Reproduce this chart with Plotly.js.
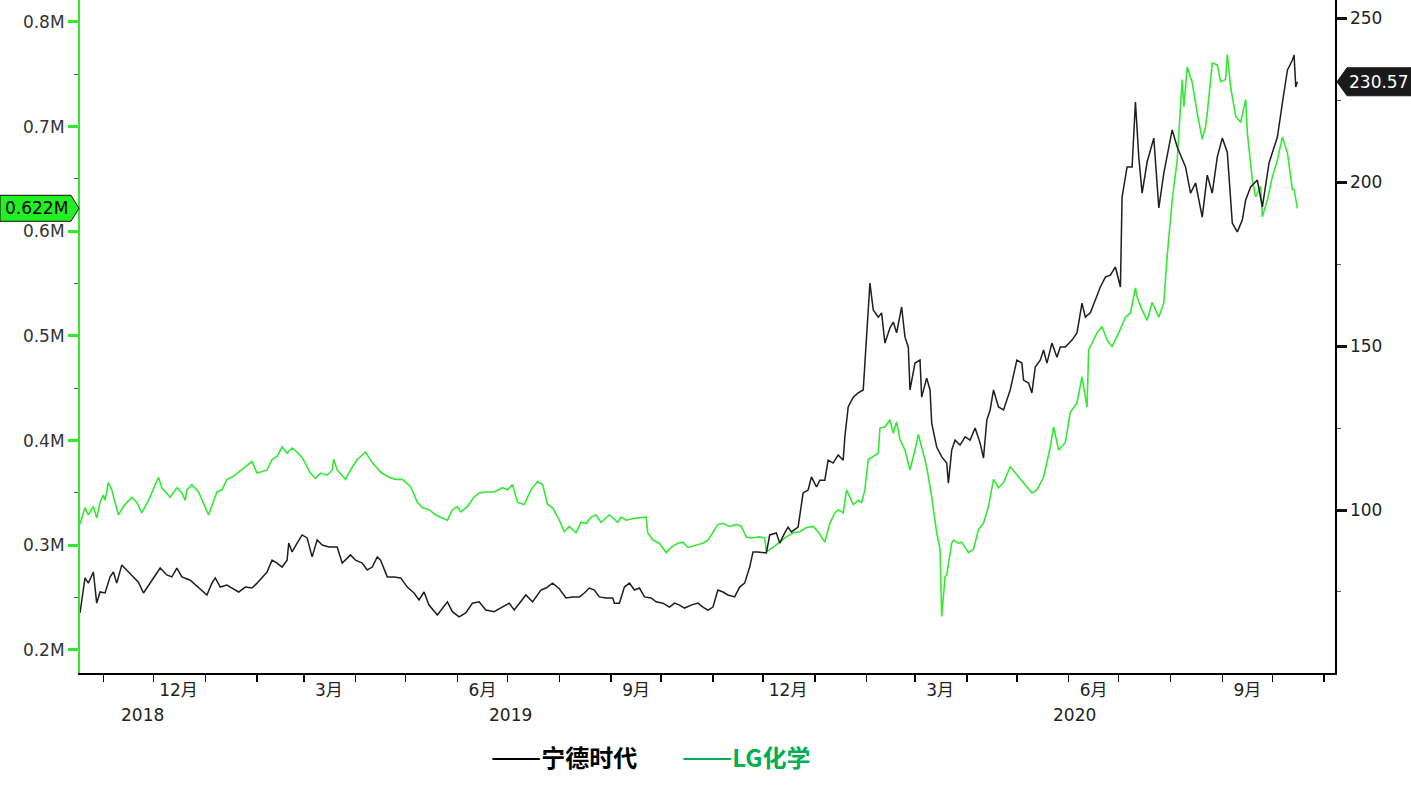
<!DOCTYPE html>
<html>
<head>
<meta charset="utf-8">
<script src="https://cdn.plot.ly/plotly-3.0.1.min.js"></script>
<style>
html,body{margin:0;padding:0;background:#fff;}
#chart{width:1411px;height:787px;}
</style>
</head>
<body>
<div id="chart"></div>
<script>
// ---------------- DATA ----------------
// 宁德时代 (CATL) – right axis, CNY
const catlDates = [
"2018-10-18","2018-10-21","2018-10-23","2018-10-26","2018-10-28","2018-10-30","2018-11-02","2018-11-05","2018-11-07","2018-11-09",
"2018-11-12","2018-11-15","2018-11-19","2018-11-22","2018-11-25","2018-11-30","2018-12-05","2018-12-09","2018-12-12","2018-12-15",
"2018-12-18","2018-12-23","2018-12-28","2019-01-02","2019-01-05","2019-01-07","2019-01-10","2019-01-14","2019-01-17","2019-01-21",
"2019-01-25","2019-01-29","2019-02-01","2019-02-07","2019-02-10","2019-02-13","2019-02-16","2019-02-19","2019-02-20","2019-02-22",
"2019-02-25","2019-02-28","2019-03-03","2019-03-06","2019-03-09","2019-03-12","2019-03-16","2019-03-21","2019-03-24","2019-03-29",
"2019-04-01","2019-04-05","2019-04-08","2019-04-11","2019-04-14","2019-04-16","2019-04-20","2019-04-24","2019-04-28","2019-05-02",
"2019-05-06","2019-05-09","2019-05-12","2019-05-15","2019-05-20","2019-05-26","2019-05-29","2019-06-02","2019-06-06","2019-06-10",
"2019-06-14","2019-06-18","2019-06-23","2019-06-28","2019-07-02","2019-07-05","2019-07-08","2019-07-12","2019-07-16","2019-07-21",
"2019-07-24","2019-07-28","2019-08-01","2019-08-05","2019-08-09","2019-08-13","2019-08-16","2019-08-19","2019-08-22","2019-08-25",
"2019-08-29","2019-09-02","2019-09-03","2019-09-06","2019-09-09","2019-09-12","2019-09-15","2019-09-18","2019-09-21","2019-09-25",
"2019-09-28","2019-10-02","2019-10-06","2019-10-09","2019-10-12","2019-10-15","2019-10-19","2019-10-23","2019-10-26","2019-10-29",
"2019-11-01","2019-11-04","2019-11-07","2019-11-10","2019-11-14","2019-11-17","2019-11-20","2019-11-23","2019-11-25","2019-11-28",
"2019-12-03","2019-12-05","2019-12-09","2019-12-11","2019-12-14","2019-12-16","2019-12-18","2019-12-22","2019-12-25","2019-12-28",
"2019-12-30","2020-01-02","2020-01-04","2020-01-07","2020-01-09","2020-01-12","2020-01-15","2020-01-18","2020-01-19","2020-01-21",
"2020-01-24","2020-01-27","2020-01-30","2020-02-01","2020-02-03","2020-02-05","2020-02-08","2020-02-10","2020-02-12","2020-02-15",
"2020-02-17","2020-02-19","2020-02-22","2020-02-24","2020-02-26","2020-02-27","2020-03-01","2020-03-04","2020-03-05","2020-03-08",
"2020-03-10","2020-03-11","2020-03-14","2020-03-17","2020-03-20","2020-03-21","2020-03-23","2020-03-25","2020-03-28","2020-03-31",
"2020-04-03","2020-04-06","2020-04-09","2020-04-11","2020-04-13","2020-04-15","2020-04-17","2020-04-20","2020-04-23","2020-04-27",
"2020-05-01","2020-05-04","2020-05-05","2020-05-08","2020-05-10","2020-05-12","2020-05-15","2020-05-17","2020-05-19","2020-05-22",
"2020-05-25","2020-05-27","2020-05-30","2020-06-03","2020-06-06","2020-06-09","2020-06-11","2020-06-14","2020-06-17","2020-06-20",
"2020-06-23","2020-06-26","2020-06-29","2020-07-02","2020-07-03","2020-07-06","2020-07-09","2020-07-11","2020-07-13","2020-07-15",
"2020-07-18","2020-07-22","2020-07-25","2020-07-28","2020-08-02","2020-08-05","2020-08-10","2020-08-13","2020-08-16","2020-08-20",
"2020-08-23","2020-08-26","2020-08-29","2020-09-01","2020-09-04","2020-09-07","2020-09-10","2020-09-13","2020-09-15","2020-09-18",
"2020-09-22","2020-09-25","2020-09-29","2020-10-04","2020-10-07","2020-10-10","2020-10-13","2020-10-14","2020-10-15","2020-10-16"
];
const catlValues = [
68.6,79.3,77.7,81.1,71.6,75.0,74.7,79.6,81.1,77.7,
83.2,81.7,79.6,78.0,74.7,78.6,82.3,80.2,79.6,82.3,
79.6,78.6,76.2,74.1,77.7,79.3,76.5,77.1,76.2,75.0,
76.5,76.2,77.7,81.1,84.7,83.8,82.6,84.7,89.9,87.2,
89.9,92.4,91.5,85.7,90.9,89.3,88.7,88.7,83.8,86.3,
84.7,83.8,81.7,82.6,85.7,84.7,79.6,79.6,79.3,76.5,
74.7,72.6,75.0,71.0,68.0,72.0,69.0,67.4,68.6,71.6,
72.0,69.5,69.0,70.4,71.6,69.5,71.6,74.1,72.0,75.6,
76.2,77.7,76.0,73.2,73.5,73.5,74.7,76.2,75.6,73.5,
73.2,73.2,71.6,71.6,76.5,77.7,75.6,76.2,73.5,73.2,
72.0,71.6,70.4,71.6,71.0,70.1,71.0,71.6,70.4,69.5,
70.4,75.6,75.0,74.1,73.5,76.5,77.7,82.6,87.2,87.2,
86.9,92.4,93.0,89.9,93.0,94.8,93.3,94.8,105.2,106.1,
110.1,107.0,109.1,109.1,115.2,114.3,116.8,115.2,122.3,131.4,
134.4,135.7,136.6,154.0,169.2,161.0,158.8,160.1,150.9,155.5,
157.3,154.0,161.9,152.7,149.7,136.6,144.8,145.7,134.4,140.2,
136.6,126.5,119.2,116.2,114.3,108.2,118.3,121.3,119.8,122.3,
121.3,125.0,120.4,115.8,127.4,130.5,136.6,131.4,130.5,136.6,
145.7,144.8,139.6,138.7,135.7,143.6,145.7,148.8,144.8,150.9,
146.6,149.7,149.7,151.8,154.0,163.1,158.8,160.1,164.0,168.0,
171.0,171.6,174.1,168.0,195.4,204.6,204.6,224.4,207.6,196.6,
206.1,213.4,192.1,202.7,215.9,210.7,204.6,196.6,199.7,189.3,
202.1,196.6,207.6,213.4,209.1,187.5,184.8,188.4,194.5,198.5,
200.6,192.4,205.8,213.7,224.1,234.1,237.2,238.7,229.0,230.57
];

// LG化学 (LG Chem) – left axis, million KRW
const lgDates = [
"2018-10-18","2018-10-21","2018-10-23","2018-10-26","2018-10-28","2018-10-30","2018-11-01","2018-11-02","2018-11-04","2018-11-06",
"2018-11-10","2018-11-13","2018-11-18","2018-11-21","2018-11-24","2018-11-28","2018-12-04","2018-12-06","2018-12-11","2018-12-15",
"2018-12-18","2018-12-20","2018-12-21","2018-12-24","2018-12-28","2019-01-03","2019-01-08","2019-01-11","2019-01-14","2019-01-17",
"2019-01-21","2019-01-25","2019-01-29","2019-02-01","2019-02-07","2019-02-10","2019-02-13","2019-02-16","2019-02-19","2019-02-22",
"2019-02-25","2019-02-28","2019-03-05","2019-03-08","2019-03-11","2019-03-15","2019-03-18","2019-03-19","2019-03-21","2019-03-26",
"2019-03-29","2019-04-02","2019-04-07","2019-04-11","2019-04-16","2019-04-21","2019-04-25","2019-04-29","2019-05-04","2019-05-08",
"2019-05-11","2019-05-15","2019-05-19","2019-05-23","2019-05-26","2019-05-29","2019-06-01","2019-06-03","2019-06-07","2019-06-11",
"2019-06-14","2019-06-18","2019-06-23","2019-06-28","2019-07-01","2019-07-04","2019-07-07","2019-07-11","2019-07-15","2019-07-19",
"2019-07-22","2019-07-25","2019-07-28","2019-08-01","2019-08-04","2019-08-07","2019-08-11","2019-08-14","2019-08-17","2019-08-20",
"2019-08-23","2019-08-26","2019-08-31","2019-09-05","2019-09-07","2019-09-10","2019-09-16","2019-09-22","2019-09-23","2019-09-26",
"2019-09-30","2019-10-04","2019-10-07","2019-10-11","2019-10-14","2019-10-17","2019-10-21","2019-10-26","2019-10-29","2019-11-01",
"2019-11-04","2019-11-07","2019-11-11","2019-11-15","2019-11-18","2019-11-21","2019-11-24","2019-11-29","2019-12-02","2019-12-03",
"2019-12-07","2019-12-11","2019-12-15","2019-12-19","2019-12-23","2019-12-27","2019-12-31","2020-01-03","2020-01-07","2020-01-10",
"2020-01-13","2020-01-15","2020-01-18","2020-01-20","2020-01-22","2020-01-24","2020-01-27","2020-01-29","2020-01-31","2020-02-02",
"2020-02-05","2020-02-08","2020-02-09","2020-02-12","2020-02-15","2020-02-17","2020-02-19","2020-02-21","2020-02-24","2020-02-27",
"2020-03-01","2020-03-03","2020-03-05","2020-03-08","2020-03-11","2020-03-14","2020-03-16","2020-03-17","2020-03-19","2020-03-20",
"2020-03-23","2020-03-24","2020-03-27","2020-03-29","2020-04-02","2020-04-05","2020-04-08","2020-04-11","2020-04-14","2020-04-17",
"2020-04-20","2020-04-23","2020-04-27","2020-05-03","2020-05-07","2020-05-10","2020-05-13","2020-05-17","2020-05-21","2020-05-23",
"2020-05-26","2020-05-30","2020-06-02","2020-06-06","2020-06-09","2020-06-12","2020-06-13","2020-06-15","2020-06-18","2020-06-21",
"2020-06-24","2020-06-27","2020-07-01","2020-07-05","2020-07-08","2020-07-11","2020-07-12","2020-07-15","2020-07-18","2020-07-21",
"2020-07-24","2020-07-25","2020-07-28","2020-07-30","2020-08-02","2020-08-05","2020-08-08","2020-08-09","2020-08-11","2020-08-14",
"2020-08-17","2020-08-20","2020-08-22","2020-08-23","2020-08-26","2020-08-29","2020-08-31","2020-09-03","2020-09-04","2020-09-06",
"2020-09-09","2020-09-12","2020-09-15","2020-09-16","2020-09-19","2020-09-21","2020-09-24","2020-09-25","2020-09-28","2020-10-01",
"2020-10-04","2020-10-07","2020-10-10","2020-10-13","2020-10-14","2020-10-16"
];
const lgValues = [
0.320,0.336,0.329,0.337,0.326,0.341,0.348,0.343,0.360,0.353,
0.329,0.337,0.346,0.341,0.331,0.343,0.365,0.355,0.346,0.355,
0.350,0.343,0.353,0.358,0.351,0.329,0.351,0.353,0.363,0.365,
0.370,0.375,0.380,0.369,0.372,0.382,0.385,0.394,0.388,0.393,
0.389,0.384,0.369,0.364,0.369,0.367,0.372,0.382,0.372,0.363,
0.372,0.382,0.389,0.379,0.370,0.365,0.363,0.363,0.356,0.341,
0.336,0.334,0.329,0.326,0.324,0.334,0.337,0.332,0.337,0.346,
0.350,0.351,0.351,0.355,0.353,0.358,0.341,0.339,0.353,0.361,
0.358,0.339,0.336,0.324,0.313,0.318,0.312,0.322,0.321,0.327,
0.329,0.322,0.329,0.322,0.327,0.324,0.326,0.327,0.312,0.305,
0.302,0.293,0.298,0.302,0.303,0.298,0.300,0.302,0.305,0.312,
0.320,0.321,0.318,0.320,0.318,0.308,0.307,0.308,0.307,0.294,
0.298,0.303,0.308,0.312,0.313,0.317,0.318,0.313,0.303,0.321,
0.331,0.334,0.331,0.353,0.346,0.339,0.343,0.341,0.353,0.382,
0.385,0.388,0.412,0.413,0.420,0.407,0.418,0.401,0.391,0.372,
0.391,0.406,0.394,0.375,0.346,0.312,0.296,0.232,0.270,0.272,
0.302,0.305,0.302,0.303,0.293,0.296,0.315,0.321,0.337,0.363,
0.355,0.360,0.375,0.363,0.356,0.350,0.353,0.365,0.394,0.413,
0.391,0.398,0.427,0.436,0.461,0.432,0.487,0.493,0.503,0.509,
0.496,0.490,0.503,0.518,0.522,0.546,0.537,0.525,0.515,0.532,
0.522,0.518,0.532,0.576,0.630,0.668,0.745,0.719,0.757,0.742,
0.713,0.688,0.700,0.713,0.761,0.759,0.743,0.745,0.769,0.738,
0.710,0.704,0.726,0.694,0.649,0.633,0.643,0.614,0.630,0.652,
0.668,0.690,0.675,0.640,0.640,0.622
];

// Axis labels
const monthLabelDates = ["2018-12-16","2019-03-16","2019-06-16","2019-09-16","2019-12-16","2020-03-16","2020-06-16","2020-09-16"];
const monthLabels = ["12月","3月","6月","9月","12月","3月","6月","9月"];
const yearLabels = ["2018","2019","2020"];
const seriesNames = ["宁德时代","LG化学"];

const xRange = ["2018-10-18","2020-11-07 12:00"];
const leftRange = [0.178, 0.821];
const rightRange = [50.3, 255.5];

// ---------------- STYLE ----------------
const GREEN = '#33ea33';
const LEGEND_GREEN = '#00b050';
const W = 1411, H = 787;
const M = {l: 80, r: 76, t: 0, b: 114};
const PW = W - M.l - M.r, PH = H - M.t - M.b;
const FONT = '"DejaVu Sans", Verdana, "Noto Sans CJK SC", sans-serif';
const CJK = '"Noto Sans CJK SC", "Liberation Sans", sans-serif';
const FS = 17;

const traces = [
  {x: lgDates, y: lgValues, type: 'scatter', mode: 'lines', name: seriesNames[1],
   line: {color: GREEN, width: 1.6}, xaxis: 'x', yaxis: 'y'},
  {x: catlDates, y: catlValues, type: 'scatter', mode: 'lines', name: seriesNames[0],
   line: {color: '#1e1e1e', width: 1.5}, xaxis: 'x', yaxis: 'y2'},
  {x: [], y: [], type: 'scatter', mode: 'lines', xaxis: 'x2', yaxis: 'y', showlegend: false, hoverinfo: 'skip'}
];

// year label positions: centre of visible part of each year
function fmt(ms){ return new Date(ms).toISOString().replace('T',' ').slice(0,19); }
const r0 = Date.parse(xRange[0]), r1 = Date.parse(xRange[1].replace(' ','T')+'Z');
const yearAnn = yearLabels.map(yl => {
  const a = Math.max(r0, Date.parse(yl + '-01-01'));
  const b = Math.min(r1, Date.parse((+yl + 1) + '-01-01'));
  return {xref: 'x', yref: 'paper', x: fmt((a + b) / 2), y: 0, yshift: -42,
          xanchor: 'center', yanchor: 'middle', showarrow: false, text: yl,
          font: {family: FONT, size: FS, color: '#222'}};
});

// value badges
const px2x = px => (px - M.l) / PW;
const lgLast = lgValues[lgValues.length - 1];
const catlLast = catlValues[catlValues.length - 1];
const lgYp = (lgLast - leftRange[0]) / (leftRange[1] - leftRange[0]);
const catlYp = (catlLast - rightRange[0]) / (rightRange[1] - rightRange[0]);
function pentLeft(yc){
  const h = 13 / PH;
  return `M ${px2x(0)},${yc+h} L ${px2x(71)},${yc+h} L ${px2x(79)},${yc} L ${px2x(71)},${yc-h} L ${px2x(0)},${yc-h} Z`;
}
function pentRight(yc){
  const h = 14 / PH;
  return `M ${px2x(1411)},${yc+h} L ${px2x(1347)},${yc+h} L ${px2x(1337)},${yc} L ${px2x(1347)},${yc-h} L ${px2x(1411)},${yc-h} Z`;
}

const shapes = [
  {type: 'path', xref: 'paper', yref: 'paper', path: pentLeft(lgYp), fillcolor: '#22f022', line: {color: '#111', width: 1}},
  {type: 'path', xref: 'paper', yref: 'paper', path: pentRight(catlYp), fillcolor: '#1a1a1a', line: {color: '#1a1a1a', width: 1}}
];

const dash = '<span style="font-size:30px">——</span>';
const annotations = yearAnn.concat([
  {xref: 'paper', yref: 'paper', x: px2x(36), y: lgYp, xanchor: 'center', yanchor: 'middle', showarrow: false,
   text: lgLast.toFixed(3) + 'M', font: {family: FONT, size: FS, color: '#000'}},
  {xref: 'paper', yref: 'paper', x: px2x(1378), y: catlYp, xanchor: 'center', yanchor: 'middle', showarrow: false,
   text: catlLast.toFixed(2), font: {family: FONT, size: FS, color: '#fff'}},
  {xref: 'paper', yref: 'paper', x: px2x(489), y: 0, yshift: -81, xanchor: 'left', yanchor: 'middle', showarrow: false,
   text: dash + '<b>' + seriesNames[0] + '</b>', font: {family: CJK, size: 24, color: '#000'}},
  {xref: 'paper', yref: 'paper', x: px2x(680), y: 0, yshift: -81, xanchor: 'left', yanchor: 'middle', showarrow: false,
   text: dash + '<b>' + seriesNames[1] + '</b>', font: {family: CJK, size: 24, color: LEGEND_GREEN}}
]);

const layout = {
  width: W, height: H,
  margin: M,
  paper_bgcolor: '#fff', plot_bgcolor: '#fff',
  showlegend: false,
  font: {family: FONT, size: FS, color: '#222'},
  xaxis: {type: 'date', range: xRange, showgrid: false, zeroline: false,
          showline: true, linecolor: '#000', linewidth: 1.5,
          ticks: 'outside', ticklen: 7, tickwidth: 1.5, tickcolor: '#000',
          tick0: '2018-11-01', dtick: 'M1', showticklabels: false},
  xaxis2: {type: 'date', range: xRange, overlaying: 'x', anchor: 'y', side: 'bottom',
           showgrid: false, zeroline: false, showline: false, ticks: '',
           tickmode: 'array', tickvals: monthLabelDates, ticktext: monthLabels,
           ticklabelstandoff: 5,
           tickfont: {family: FONT, size: FS, color: '#222'}},
  yaxis: {range: leftRange, side: 'left', showgrid: false, zeroline: false,
          showline: true, linecolor: GREEN, linewidth: 2,
          ticks: 'outside', ticklen: 10, tickwidth: 3, tickcolor: GREEN,
          tick0: 0, dtick: 0.1, tickformat: '.1f', ticksuffix: 'M',
          tickfont: {family: FONT, size: FS, color: '#333'},
          minor: {dtick: 0.05, ticks: 'outside', ticklen: 4, tickwidth: 1, tickcolor: '#555'}},
  yaxis2: {range: rightRange, overlaying: 'y', side: 'right', anchor: 'x',
           showgrid: false, zeroline: false, showline: true, linecolor: '#000', linewidth: 1.5,
           ticks: 'outside', ticklen: 10, tickwidth: 3, tickcolor: '#111',
           tick0: 0, dtick: 50,
           tickfont: {family: FONT, size: FS, color: '#222'},
           minor: {dtick: 25, ticks: 'outside', ticklen: 4, tickwidth: 1, tickcolor: '#555'}},
  shapes: shapes,
  annotations: annotations
};

Plotly.newPlot('chart', traces, layout, {displayModeBar: false, staticPlot: true});
</script>
</body>
</html>
